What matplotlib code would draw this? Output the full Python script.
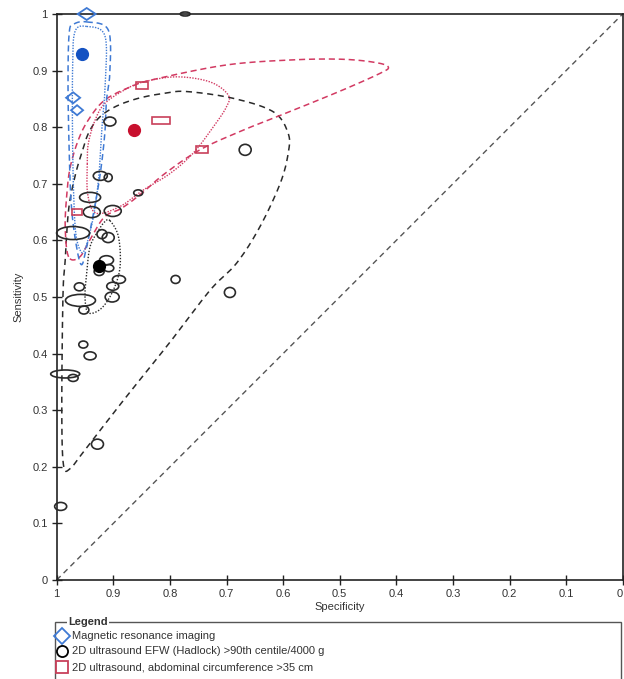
import numpy as np
import matplotlib
matplotlib.use("Agg")
import matplotlib.pyplot as plt
from matplotlib.patches import Ellipse, Rectangle, Polygon
from matplotlib.lines import Line2D

plt.rcParams['font.family'] = ['Liberation Sans', 'DejaVu Sans']

# ---------------- data (specificity, sensitivity) ----------------
# MRI studies (diamonds)
mri_spec = [0.947, 0.971, 0.964]
mri_sens = [1.000, 0.852, 0.830]
mri_w = [18, 14, 12]   # marker width (px) ~ study size
mri_h = [12, 11, 10]

# 2D ultrasound EFW (Hadlock) studies (ellipses)
efw_spec = [0.773, 0.906, 0.923, 0.909, 0.941, 0.938, 0.901, 0.856, 0.667, 0.971,
            0.920, 0.909, 0.912, 0.925, 0.908, 0.890, 0.901, 0.960, 0.790, 0.694,
            0.958, 0.902, 0.952, 0.953, 0.941, 0.985, 0.971, 0.928, 0.993]
efw_sens = [1.000, 0.810, 0.714, 0.711, 0.676, 0.650, 0.652, 0.684, 0.760, 0.613,
            0.611, 0.605, 0.565, 0.545, 0.551, 0.531, 0.519, 0.518, 0.531, 0.508,
            0.494, 0.500, 0.477, 0.416, 0.396, 0.364, 0.357, 0.240, 0.130]
efw_w = [10, 12, 14, 8, 21, 17, 17, 9, 12, 33,
         10, 12, 14, 10, 10, 13, 12, 10, 9, 11,
         30, 14, 10, 9, 12, 29, 10, 12, 12]
efw_h = [4, 9, 9, 8, 10, 11, 11, 6, 11, 13,
         9, 10, 9, 8, 7, 8, 8, 8, 8, 10,
         12, 10, 8, 7, 8, 8, 7, 10, 8]

# 2D ultrasound abdominal circumference studies (rectangles)
ac_spec = [0.849, 0.816, 0.743, 0.964]
ac_sens = [0.873, 0.811, 0.761, 0.650]
ac_w = [12, 18, 12, 10]
ac_h = [7, 7, 7, 6]

# summary points
sum_spec = {'mri': 0.956, 'ac': 0.863, 'efw': 0.925}
sum_sens = {'mri': 0.929, 'ac': 0.795, 'efw': 0.555}

# regions (closed outlines, specificity / sensitivity)
mri_pred_spec = [0.947, 0.909, 0.906, 0.912, 0.915, 0.923, 0.935, 0.947, 0.956,
                 0.965, 0.974, 0.978, 0.980, 0.978, 0.970]
mri_pred_sens = [0.986, 0.972, 0.898, 0.848, 0.789, 0.718, 0.648, 0.589, 0.557,
                 0.589, 0.660, 0.760, 0.878, 0.966, 0.982]
mri_conf_spec = [0.947, 0.915, 0.914, 0.920, 0.925, 0.932, 0.941, 0.950, 0.957,
                 0.966, 0.970, 0.972, 0.972, 0.968]
mri_conf_sens = [0.978, 0.962, 0.880, 0.800, 0.720, 0.660, 0.615, 0.585, 0.580,
                 0.610, 0.680, 0.780, 0.900, 0.968]

ac_pred_spec = [0.979, 0.985, 0.982, 0.976, 0.962, 0.944, 0.915, 0.868, 0.826,
                0.700, 0.582, 0.494, 0.435, 0.414, 0.429, 0.494, 0.582, 0.670,
                0.747, 0.809, 0.850, 0.885, 0.915, 0.938, 0.959]
ac_pred_sens = [0.571, 0.624, 0.683, 0.730, 0.777, 0.813, 0.848, 0.872, 0.885,
                0.910, 0.919, 0.920, 0.914, 0.906, 0.895, 0.866, 0.830, 0.795,
                0.760, 0.718, 0.683, 0.657, 0.642, 0.607, 0.571]
ac_conf_spec = [0.946, 0.944, 0.932, 0.915, 0.880, 0.847, 0.788, 0.729, 0.697,
                0.700, 0.723, 0.759, 0.800, 0.847, 0.888, 0.930, 0.945]
ac_conf_sens = [0.735, 0.772, 0.813, 0.842, 0.866, 0.880, 0.889, 0.880, 0.857,
                0.836, 0.801, 0.754, 0.718, 0.689, 0.660, 0.648, 0.680]

efw_pred_spec = [0.989, 0.985, 0.979, 0.968, 0.956, 0.944, 0.926, 0.897, 0.856,
                 0.809, 0.770, 0.688, 0.617, 0.591, 0.591, 0.605, 0.641, 0.682,
                 0.729, 0.800, 0.880, 0.950, 0.976, 0.988, 0.991]
efw_pred_sens = [0.500, 0.565, 0.654, 0.712, 0.754, 0.789, 0.816, 0.836, 0.851,
                 0.860, 0.863, 0.851, 0.827, 0.789, 0.754, 0.701, 0.624, 0.560,
                 0.512, 0.420, 0.320, 0.230, 0.197, 0.203, 0.300]
efw_conf_spec = [0.906, 0.891, 0.888, 0.900, 0.921, 0.944, 0.950, 0.947, 0.941,
                 0.926, 0.915]
efw_conf_sens = [0.635, 0.607, 0.554, 0.512, 0.480, 0.472, 0.500, 0.542, 0.589,
                 0.618, 0.633]

legend_labels = ["Magnetic resonance imaging",
                 "2D ultrasound EFW (Hadlock) >90th centile/4000 g",
                 "2D ultrasound, abdominal circumference >35 cm"]

# ---------------- styling ----------------
BLUE = '#3f7ad4'
BLUE_F = '#1452c2'
RED = '#d23a62'
RED_F = '#c8102e'
BLK = '#2a2a2a'

W, H = 624, 679
fig = plt.figure(figsize=(W / 100, H / 100), dpi=100)
ax = fig.add_axes([56.7 / W, 1 - 580 / H, 566 / W, 566 / H])
ax.set_xlim(1, 0)
ax.set_ylim(0, 1)
PX = 1 / 566.0  # data units per pixel


def smooth_closed(xs, ys, n=16):
    P = np.column_stack([xs, ys])
    N = len(P)
    out = []
    t = np.linspace(0, 1, n, endpoint=False)[:, None]
    for i in range(N):
        p0, p1, p2, p3 = P[i - 1], P[i], P[(i + 1) % N], P[(i + 2) % N]
        seg = 0.5 * ((2 * p1) + (-p0 + p2) * t + (2 * p0 - 5 * p1 + 4 * p2 - p3) * t ** 2
                     + (-p0 + 3 * p1 - 3 * p2 + p3) * t ** 3)
        out.append(seg)
    out = np.vstack(out)
    out = np.vstack([out, out[:1]])
    return out[:, 0], out[:, 1]


# diagonal
ax.plot([1, 0], [0, 1], ls=(0, (4, 3)), color='#555555', lw=1.0, zorder=1)

# regions
def region(xs, ys, color, style, lw=1.0):
    sx, sy = smooth_closed(xs, ys)
    ax.plot(sx, sy, color=color, ls=style, lw=lw, zorder=2)

region(efw_pred_spec, efw_pred_sens, BLK, (0, (4, 3)), 1.1)
region(efw_conf_spec, efw_conf_sens, BLK, (0, (1, 1.2)), 1.0)
region(ac_pred_spec, ac_pred_sens, RED, (0, (4, 2.5)), 1.1)
region(ac_conf_spec, ac_conf_sens, RED, (0, (1, 1)), 1.0)
region(mri_pred_spec, mri_pred_sens, BLUE, (0, (4, 2.5)), 1.1)
region(mri_conf_spec, mri_conf_sens, BLUE, (0, (1, 1)), 1.0)

# study markers
for x, y, w, h in zip(efw_spec, efw_sens, efw_w, efw_h):
    ax.add_patch(Ellipse((x, y), w * PX, h * PX, fill=False, ec=BLK, lw=1.2,
                         zorder=4, clip_on=False))
for x, y, w, h in zip(ac_spec, ac_sens, ac_w, ac_h):
    ax.add_patch(Rectangle((x + w * PX / 2, y - h * PX / 2), -w * PX, h * PX,
                           fill=False, ec='#c8405a', lw=1.2, zorder=4))
for x, y, w, h in zip(mri_spec, mri_sens, mri_w, mri_h):
    dx, dy = w * PX / 2, h * PX / 2
    ax.add_patch(Polygon([(x - dx, y), (x, y + dy), (x + dx, y), (x, y - dy)],
                         closed=True, fill=False, ec=BLUE, lw=1.3, zorder=4,
                         clip_on=False))

# summary points
ax.plot([sum_spec['mri']], [sum_sens['mri']], 'o', ms=8.5, color=BLUE_F, zorder=5)
ax.plot([sum_spec['ac']], [sum_sens['ac']], 'o', ms=8.5, color=RED_F, zorder=5)
ax.plot([sum_spec['efw']], [sum_sens['efw']], 'o', ms=8.5, color='black', zorder=5)

# axes styling
ticks = np.round(np.arange(0, 1.01, 0.1), 1)
ax.set_xticks(ticks)
ax.set_yticks(ticks)
ax.set_xticklabels(['0' if t == 0 else ('1' if t == 1 else f'{t:.1f}') for t in ticks])
ax.set_yticklabels(['0' if t == 0 else ('1' if t == 1 else f'{t:.1f}') for t in ticks])
ax.tick_params(direction='inout', length=7, width=1.0, labelsize=8,
               labelcolor='#333333', color='#222222', pad=3)
# keep the last x label ("0") inside the figure
for lab in ax.get_xticklabels():
    if lab.get_text() == '0':
        lab.set_horizontalalignment('right')
for s in ax.spines.values():
    s.set_linewidth(1.2)
    s.set_color('#222222')
ax.set_xlabel('Specificity', fontsize=8, color='#333333', labelpad=2)
ax.set_ylabel('Sensitivity', fontsize=8, color='#333333', labelpad=6)

# legend (fieldset style)
def fy(py):
    return 1 - py / H

fig.add_artist(Rectangle((55 / W, -0.05), (621 - 55) / W, fy(622) + 0.05,
                         transform=fig.transFigure, fill=False, ec='#555555', lw=1.0))
fig.text(68 / W, fy(622), 'Legend', fontsize=8, fontweight='bold', color='#333333',
         ha='left', va='center',
         bbox=dict(facecolor='white', edgecolor='none', pad=1.0))
rows = [636, 651, 667]
fig.add_artist(Line2D([62 / W], [fy(rows[0])], marker='D', ms=8, mfc='none', mec=BLUE,
                      mew=1.3, transform=fig.transFigure))
fig.add_artist(Line2D([62 / W], [fy(rows[1])], marker='o', ms=8, mfc='none', mec='black',
                      mew=1.3, transform=fig.transFigure))
fig.add_artist(Line2D([62 / W], [fy(rows[2])], marker='s', ms=8, mfc='none', mec='#c8405a',
                      mew=1.3, transform=fig.transFigure))
for r, lab in zip(rows, legend_labels):
    fig.text(72 / W, fy(r), lab, fontsize=8, color='#333333', ha='left', va='center')

fig.savefig('out.png', dpi=100)
